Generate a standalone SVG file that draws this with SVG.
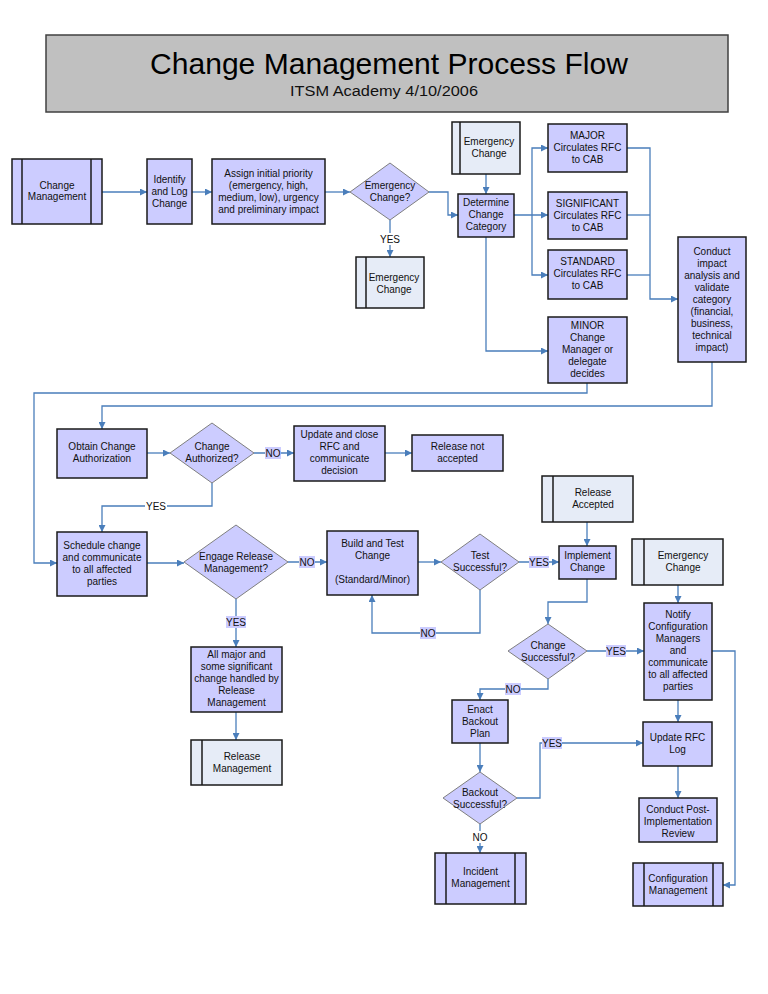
<svg xmlns="http://www.w3.org/2000/svg" width="768" height="994" viewBox="0 0 768 994">
<style>
.box{fill:#ccccff;stroke:#1a1a1a;stroke-width:1.5}
.sub{fill:#e6ecf7;stroke:#1a1a1a;stroke-width:1.5}
.ln{stroke:#1a1a1a;stroke-width:1.5}
.dia{fill:#ccccff;stroke:#7f7f7f;stroke-width:1}
.t{font-family:"Liberation Sans",Arial,sans-serif;font-size:10px;fill:#111;text-anchor:middle}
.c{fill:none;stroke:#4a7ebb;stroke-width:1.3}
.lb{fill:#ccccff}
.lw{fill:#ffffff}
</style>
<defs>
<marker id="a" viewBox="0 0 10 10" refX="10" refY="5" markerWidth="7" markerHeight="7" orient="auto" markerUnits="userSpaceOnUse"><path d="M0,0 L10,5 L0,10 z" fill="#4a7ebb"/></marker>
</defs>
<rect width="768" height="994" fill="#ffffff"/>

<g id="title">
<rect x="46" y="35" width="682" height="77" fill="#c0c0c0" stroke="#404040" stroke-width="1.5"/>
<text x="389" y="74" font-family="Liberation Sans, Arial, sans-serif" font-size="30" text-anchor="middle" fill="#000" textLength="478" lengthAdjust="spacingAndGlyphs">Change Management Process Flow</text>
<text x="384" y="96" font-family="Liberation Sans, Arial, sans-serif" font-size="14" text-anchor="middle" fill="#111" textLength="188" lengthAdjust="spacingAndGlyphs">ITSM Academy  4/10/2006</text>
</g>

<g id="connectors">
<path class="c" d="M102,192 H147" marker-end="url(#a)"/>
<path class="c" d="M192,192 H212" marker-end="url(#a)"/>
<path class="c" d="M325,192 H350" marker-end="url(#a)"/>
<path class="c" d="M429,192 H448 V215 H458" marker-end="url(#a)"/>
<path class="c" d="M390,220 V257" marker-end="url(#a)"/>
<path class="c" d="M486,174 V194" marker-end="url(#a)"/>
<path class="c" d="M514,215 H548" marker-end="url(#a)"/>
<path class="c" d="M532,215 V148 H548" marker-end="url(#a)"/>
<path class="c" d="M532,215 V275 H548" marker-end="url(#a)"/>
<path class="c" d="M627,148 H650 V299 H678" marker-end="url(#a)"/>
<path class="c" d="M627,215 H650"/>
<path class="c" d="M627,275 H650"/>
<path class="c" d="M486,237 V351 H548" marker-end="url(#a)"/>
<path class="c" d="M587,383 V393 H34 V563 H57" marker-end="url(#a)"/>
<path class="c" d="M712,362 V406 H102 V429" marker-end="url(#a)"/>
<path class="c" d="M147,453 H170" marker-end="url(#a)"/>
<path class="c" d="M254,453 H294" marker-end="url(#a)"/>
<path class="c" d="M385,453 H412" marker-end="url(#a)"/>
<path class="c" d="M212,483 V506 H102 V532" marker-end="url(#a)"/>
<path class="c" d="M147,563 H184" marker-end="url(#a)"/>
<path class="c" d="M288,562 H327" marker-end="url(#a)"/>
<path class="c" d="M418,562 H441" marker-end="url(#a)"/>
<path class="c" d="M519,562 H559" marker-end="url(#a)"/>
<path class="c" d="M480,590 V633 H372 V595" marker-end="url(#a)"/>
<path class="c" d="M236,599 V647" marker-end="url(#a)"/>
<path class="c" d="M236,712 V740" marker-end="url(#a)"/>
<path class="c" d="M587,522 V546" marker-end="url(#a)"/>
<path class="c" d="M678,585 V603" marker-end="url(#a)"/>
<path class="c" d="M587,579 V602 H548 V624" marker-end="url(#a)"/>
<path class="c" d="M587,651 H644" marker-end="url(#a)"/>
<path class="c" d="M548,679 V689 H480 V700" marker-end="url(#a)"/>
<path class="c" d="M480,743 V772" marker-end="url(#a)"/>
<path class="c" d="M517,798 H540 V743 H643" marker-end="url(#a)"/>
<path class="c" d="M480,824 V853" marker-end="url(#a)"/>
<path class="c" d="M678,700 V722" marker-end="url(#a)"/>
<path class="c" d="M678,766 V798" marker-end="url(#a)"/>
<path class="c" d="M712,651 H735 V885 H723" marker-end="url(#a)"/>
<g id="labels">
<rect class="lw" x="379" y="233" width="22" height="12"/><text class="t" x="390" y="242.5">YES</text>
<rect class="lb" x="265" y="447" width="16" height="12"/><text class="t" x="273" y="456.5">NO</text>
<rect class="lw" x="145" y="500" width="22" height="12"/><text class="t" x="156" y="509.5">YES</text>
<rect class="lb" x="299" y="556" width="16" height="12"/><text class="t" x="307" y="565.5">NO</text>
<rect class="lb" x="529" y="556" width="20" height="12"/><text class="t" x="539" y="565.5">YES</text>
<rect class="lb" x="420" y="627" width="16" height="12"/><text class="t" x="428" y="636.5">NO</text>
<rect class="lb" x="226" y="616" width="20" height="12"/><text class="t" x="236" y="625.5">YES</text>
<rect class="lb" x="606" y="645" width="20" height="12"/><text class="t" x="616" y="654.5">YES</text>
<rect class="lb" x="505" y="683" width="16" height="12"/><text class="t" x="513" y="692.5">NO</text>
<rect class="lb" x="542" y="737" width="20" height="12"/><text class="t" x="552" y="746.5">YES</text>
<rect class="lw" x="472" y="831" width="16" height="12"/><text class="t" x="480" y="840.5">NO</text>
</g>
</g>

<g id="change-management">
<rect class="box" x="12" y="159" width="90" height="65"/>
<line class="ln" x1="22" y1="159" x2="22" y2="224"/><line class="ln" x1="91" y1="159" x2="91" y2="224"/>
<text class="t" x="57" y="188.5">Change</text><text class="t" x="57" y="200">Management</text>
</g>
<g id="identify">
<rect class="box" x="147" y="159" width="45" height="65"/>
<text class="t" x="169.5" y="182.5">Identify</text><text class="t" x="169.5" y="194.5">and Log</text><text class="t" x="169.5" y="206.5">Change</text>
</g>
<g id="assign">
<rect class="box" x="212" y="159" width="113" height="65"/>
<text class="t" x="268.5" y="176.5">Assign initial priority</text><text class="t" x="268.5" y="188.5">(emergency, high,</text><text class="t" x="268.5" y="200.5">medium, low), urgency</text><text class="t" x="268.5" y="212.5">and preliminary impact</text>
</g>
<g id="emergency-q">
<polygon class="dia" points="390,163 429,192 390,220 350,192"/>
<text class="t" x="390" y="188.5">Emergency</text><text class="t" x="390" y="200.5">Change?</text>
</g>
<g id="emergency-1">
<rect class="sub" x="356" y="257" width="68" height="51"/>
<line class="ln" x1="366" y1="257" x2="366" y2="308"/>
<text class="t" x="394" y="280.5">Emergency</text><text class="t" x="394" y="292.5">Change</text>
</g>
<g id="emergency-2">
<rect class="sub" x="452" y="122" width="68" height="52"/>
<line class="ln" x1="460" y1="122" x2="460" y2="174"/>
<text class="t" x="489" y="144.5">Emergency</text><text class="t" x="489" y="156.5">Change</text>
</g>
<g id="determine">
<rect class="box" x="458" y="194" width="56" height="43"/>
<text class="t" x="486" y="205.5">Determine</text><text class="t" x="486" y="217.5">Change</text><text class="t" x="486" y="229.5">Category</text>
</g>
<g id="major">
<rect class="box" x="548" y="124" width="79" height="48"/>
<text class="t" x="587.5" y="138.5">MAJOR</text><text class="t" x="587.5" y="150.5">Circulates RFC</text><text class="t" x="587.5" y="162.5">to CAB</text>
</g>
<g id="significant">
<rect class="box" x="548" y="192" width="79" height="47"/>
<text class="t" x="587.5" y="206.5">SIGNIFICANT</text><text class="t" x="587.5" y="218.5">Circulates RFC</text><text class="t" x="587.5" y="230.5">to CAB</text>
</g>
<g id="standard">
<rect class="box" x="548" y="250" width="79" height="49"/>
<text class="t" x="587.5" y="264.5">STANDARD</text><text class="t" x="587.5" y="276.5">Circulates RFC</text><text class="t" x="587.5" y="288.5">to CAB</text>
</g>
<g id="minor">
<rect class="box" x="548" y="317" width="79" height="66"/>
<text class="t" x="587.5" y="328.5">MINOR</text><text class="t" x="587.5" y="340.5">Change</text><text class="t" x="587.5" y="352.5">Manager or</text><text class="t" x="587.5" y="364.5">delegate</text><text class="t" x="587.5" y="376.5">decides</text>
</g>
<g id="conduct-impact">
<rect class="box" x="678" y="237" width="68" height="125"/>
<text class="t" x="712" y="254.5">Conduct</text><text class="t" x="712" y="266.5">impact</text><text class="t" x="712" y="278.5">analysis and</text><text class="t" x="712" y="290.5">validate</text><text class="t" x="712" y="302.5">category</text><text class="t" x="712" y="314.5">(financial,</text><text class="t" x="712" y="326.5">business,</text><text class="t" x="712" y="338.5">technical</text><text class="t" x="712" y="350.5">impact)</text>
</g>
<g id="obtain">
<rect class="box" x="57" y="429" width="90" height="49"/>
<text class="t" x="102" y="449.5">Obtain Change</text><text class="t" x="102" y="461.5">Authorization</text>
</g>
<g id="authorized-q">
<polygon class="dia" points="212,423 254,453 212,483 170,453"/>
<text class="t" x="212" y="449.5">Change</text><text class="t" x="212" y="461.5">Authorized?</text>
</g>
<g id="update-close">
<rect class="box" x="294" y="426" width="91" height="55"/>
<text class="t" x="339.5" y="437.5">Update and close</text><text class="t" x="339.5" y="449.5">RFC and</text><text class="t" x="339.5" y="461.5">communicate</text><text class="t" x="339.5" y="473.5">decision</text>
</g>
<g id="release-not">
<rect class="box" x="412" y="435" width="91" height="36"/>
<text class="t" x="457.5" y="449.5">Release not</text><text class="t" x="457.5" y="462">accepted</text>
</g>
<g id="schedule">
<rect class="box" x="57" y="532" width="90" height="64"/>
<text class="t" x="102" y="548.5">Schedule change</text><text class="t" x="102" y="560.5">and communicate</text><text class="t" x="102" y="572.5">to all affected</text><text class="t" x="102" y="584.5">parties</text>
</g>
<g id="engage-q">
<polygon class="dia" points="236,525 288,562 236,599 184,562"/>
<text class="t" x="236" y="559.5">Engage Release</text><text class="t" x="236" y="571.5">Management?</text>
</g>
<g id="build">
<rect class="box" x="327" y="531" width="91" height="64"/>
<text class="t" x="372.5" y="546.5">Build and Test</text><text class="t" x="372.5" y="558.5">Change</text><text class="t" x="372.5" y="582.5">(Standard/Minor)</text>
</g>
<g id="test-q">
<polygon class="dia" points="480,534 519,562 480,590 441,562"/>
<text class="t" x="480" y="558.5">Test</text><text class="t" x="480" y="570.5">Successful?</text>
</g>
<g id="release-accepted">
<rect class="sub" x="542" y="476" width="91" height="46"/>
<line class="ln" x1="553" y1="476" x2="553" y2="522"/>
<text class="t" x="593" y="495.5">Release</text><text class="t" x="593" y="507.5">Accepted</text>
</g>
<g id="implement">
<rect class="box" x="559" y="546" width="57" height="33"/>
<text class="t" x="587.5" y="558.5">Implement</text><text class="t" x="587.5" y="570.5">Change</text>
</g>
<g id="emergency-3">
<rect class="sub" x="632" y="539" width="91" height="46"/>
<line class="ln" x1="644" y1="539" x2="644" y2="585"/>
<text class="t" x="683" y="558.5">Emergency</text><text class="t" x="683" y="570.5">Change</text>
</g>
<g id="all-major">
<rect class="box" x="191" y="647" width="91" height="65"/>
<text class="t" x="236.5" y="657.5">All major and</text><text class="t" x="236.5" y="669.5">some significant</text><text class="t" x="236.5" y="681.5">change handled by</text><text class="t" x="236.5" y="694">Release</text><text class="t" x="236.5" y="706">Management</text>
</g>
<g id="release-management">
<rect class="sub" x="191" y="740" width="91" height="45"/>
<line class="ln" x1="202" y1="740" x2="202" y2="785"/>
<text class="t" x="242" y="759.5">Release</text><text class="t" x="242" y="771.5">Management</text>
</g>
<g id="change-successful-q">
<polygon class="dia" points="548,624 587,651 548,679 508,651"/>
<text class="t" x="548" y="648.5">Change</text><text class="t" x="548" y="660.5">Successful?</text>
</g>
<g id="notify">
<rect class="box" x="644" y="603" width="68" height="97"/>
<text class="t" x="678" y="617.5">Notify</text><text class="t" x="678" y="629.5">Configuration</text><text class="t" x="678" y="641.5">Managers</text><text class="t" x="678" y="654">and</text><text class="t" x="678" y="666">communicate</text><text class="t" x="678" y="678">to all affected</text><text class="t" x="678" y="690">parties</text>
</g>
<g id="enact">
<rect class="box" x="452" y="700" width="56" height="43"/>
<text class="t" x="480" y="712.5">Enact</text><text class="t" x="480" y="724.5">Backout</text><text class="t" x="480" y="736.5">Plan</text>
</g>
<g id="backout-q">
<polygon class="dia" points="480,772 517,798 480,824 443,798"/>
<text class="t" x="480" y="795.5">Backout</text><text class="t" x="480" y="807.5">Successful?</text>
</g>
<g id="incident">
<rect class="box" x="435" y="853" width="91" height="51"/>
<line class="ln" x1="446" y1="853" x2="446" y2="904"/><line class="ln" x1="515" y1="853" x2="515" y2="904"/>
<text class="t" x="480.5" y="874.5">Incident</text><text class="t" x="480.5" y="886.5">Management</text>
</g>
<g id="update-rfc">
<rect class="box" x="643" y="722" width="69" height="44"/>
<text class="t" x="677.5" y="740.5">Update RFC</text><text class="t" x="677.5" y="752.5">Log</text>
</g>
<g id="post-review">
<rect class="box" x="639" y="798" width="78" height="44"/>
<text class="t" x="678" y="812.5">Conduct Post-</text><text class="t" x="678" y="824.5">Implementation</text><text class="t" x="678" y="836.5">Review</text>
</g>
<g id="configuration-management">
<rect class="box" x="633" y="863" width="90" height="43"/>
<line class="ln" x1="644" y1="863" x2="644" y2="906"/><line class="ln" x1="713" y1="863" x2="713" y2="906"/>
<text class="t" x="678" y="881.5">Configuration</text><text class="t" x="678" y="893.5">Management</text>
</g>
</svg>
